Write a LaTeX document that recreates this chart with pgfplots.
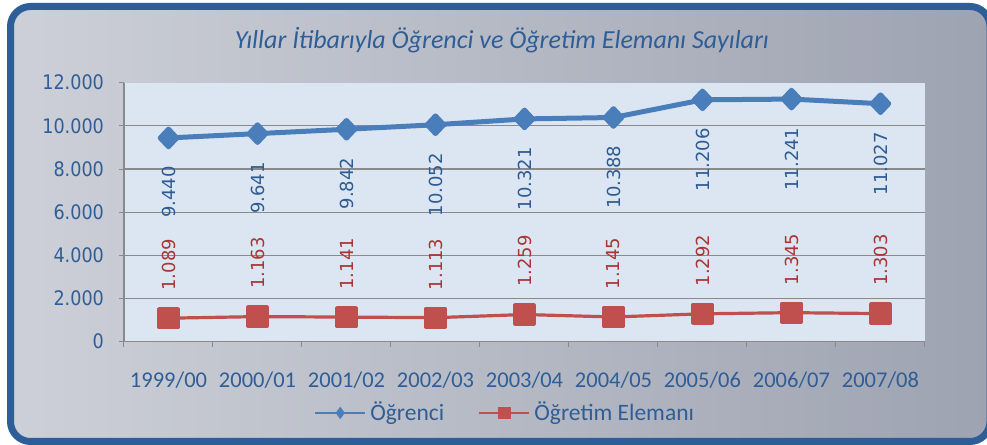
\documentclass[border=0pt]{standalone}
\usepackage{pgfplots}
\usepackage{pgfplotstable}
\pgfplotsset{compat=1.18}
\usepackage{fontspec}
\setmainfont{Carlito}
\newfontfamily\dejavu{DejaVu Sans}
\newfontfamily\dejavun[FakeStretch=0.88]{DejaVu Sans}
\definecolor{frameblue}{HTML}{2E5E98}
\definecolor{txtblue}{HTML}{2F5E96}
\definecolor{serblue}{HTML}{4A7EBB}
\definecolor{serred}{HTML}{C0504D}
\definecolor{labred}{HTML}{A83634}
\definecolor{labblue}{HTML}{2D5B92}
\definecolor{plotbg}{HTML}{DCE6F2}
\definecolor{gridgray}{HTML}{8A8A8A}
\definecolor{bgL}{HTML}{CDD0D8}
\definecolor{bgM}{HTML}{BEC2CB}
\definecolor{bgR}{HTML}{9EA3B1}

\pgfplotstableread{
x y lab
0 9440 9.440
1 9641 9.641
2 9842 9.842
3 10052 10.052
4 10321 10.321
5 10388 10.388
6 11206 11.206
7 11241 11.241
8 11027 11.027
}\ogr
\pgfplotstableread{
x y lab
0 1089 1.089
1 1163 1.163
2 1141 1.141
3 1113 1.113
4 1259 1.259
5 1145 1.145
6 1292 1.292
7 1345 1.345
8 1303 1.303
}\ogrel

\begin{document}
\begin{tikzpicture}
\useasboundingbox (0,0) rectangle (493.5pt,222.5pt);
\begin{scope}
\clip (0,0) rectangle (493.5pt,222.5pt);
\fill[white] (0,0) rectangle (493.5pt,222.5pt);
\shade[left color=bgL, middle color=bgM, right color=bgR, rounded corners=10pt] (5.25pt,1.75pt) rectangle (495pt,219.25pt);
\draw[frameblue, line width=3.5pt, rounded corners=10pt] (5.25pt,1.75pt) rectangle (495pt,219.25pt);
\end{scope}
\node[font=\fontsize{13}{15}\selectfont\itshape, text=txtblue] at (251pt,202.5pt) {Yıllar İtibarıyla Öğrenci ve Öğretim Elemanı Sayıları};

\begin{axis}[
  at={(62pt,51.65pt)}, anchor=south west,
  scale only axis, width=400.5pt, height=129.5pt,
  xmin=-0.5, xmax=8.5, ymin=0, ymax=12000,
  clip=false,
  scaled y ticks=false,
  axis background/.style={fill=plotbg},
  axis x line*=bottom, axis y line*=left,
  axis line style={gridgray, line width=0.6pt},
  tick align=outside,
  major tick length=2.5pt, minor tick length=2.5pt,
  tick style={gridgray, line width=0.5pt},
  xtick={0,...,8},
  xticklabels={1999/00,2000/01,2001/02,2002/03,2003/04,2004/05,2005/06,2006/07,2007/08},
  major x tick style={draw=none},
  minor xtick={-0.5,0.5,...,8.5},
  xticklabel style={font=\fontsize{11.25}{13}\selectfont, text=txtblue, anchor=base, yshift=-20.5pt},
  ytick={0,2000,4000,6000,8000,10000},
  yticklabels={0,2.000,4.000,6.000,8.000,10.000},
  extra y ticks={12000}, extra y tick labels={12.000},
  extra y tick style={grid=none},
  yticklabel style={font=\dejavun\fontsize{10}{12}\selectfont, text=txtblue, xshift=-4pt},
  ymajorgrids, grid style={gridgray, line width=0.6pt},
  legend style={at={(0.477,-0.275)}, anchor=center, draw=none, fill=none,
    legend columns=2, font=\fontsize{11.75}{13}\selectfont, text=txtblue,
    /tikz/every even column/.append style={column sep=15pt}},
  legend image code/.code={\draw[mark repeat=2,mark phase=2,#1] plot coordinates {(0pt,0pt) (12.5pt,0pt) (25pt,0pt)};},
]
\addlegendimage{serblue, line width=1.1pt, mark=diamond*, mark size=2.2pt}
\addlegendentry{Öğrenci}
\addlegendimage{serred, line width=1.1pt, mark=square*, mark size=2.6pt}
\addlegendentry{Öğretim Elemanı}

\addplot[forget plot, serblue, line width=2.5pt, line join=round, mark=diamond*, mark size=4.4pt,
  mark options={xscale=1.25},
  nodes near coords, point meta=explicit symbolic,
  every node near coord/.append style={font=\dejavu\fontsize{9}{10}\selectfont, text=labblue,
    yshift=-13pt, rotate=90, anchor=east, inner sep=0pt}]
  table[x=x, y=y, meta=lab]{\ogr};
\addplot[forget plot, serred, line width=1.6pt, line join=round, mark=square*, mark size=4.75pt,
  nodes near coords, point meta=explicit symbolic,
  every node near coord/.append style={font=\dejavu\fontsize{9}{10}\selectfont, text=labred,
    yshift=13pt, rotate=90, anchor=west, inner sep=0pt}]
  table[x=x, y=y, meta=lab]{\ogrel};
\end{axis}
\end{tikzpicture}
\end{document}
